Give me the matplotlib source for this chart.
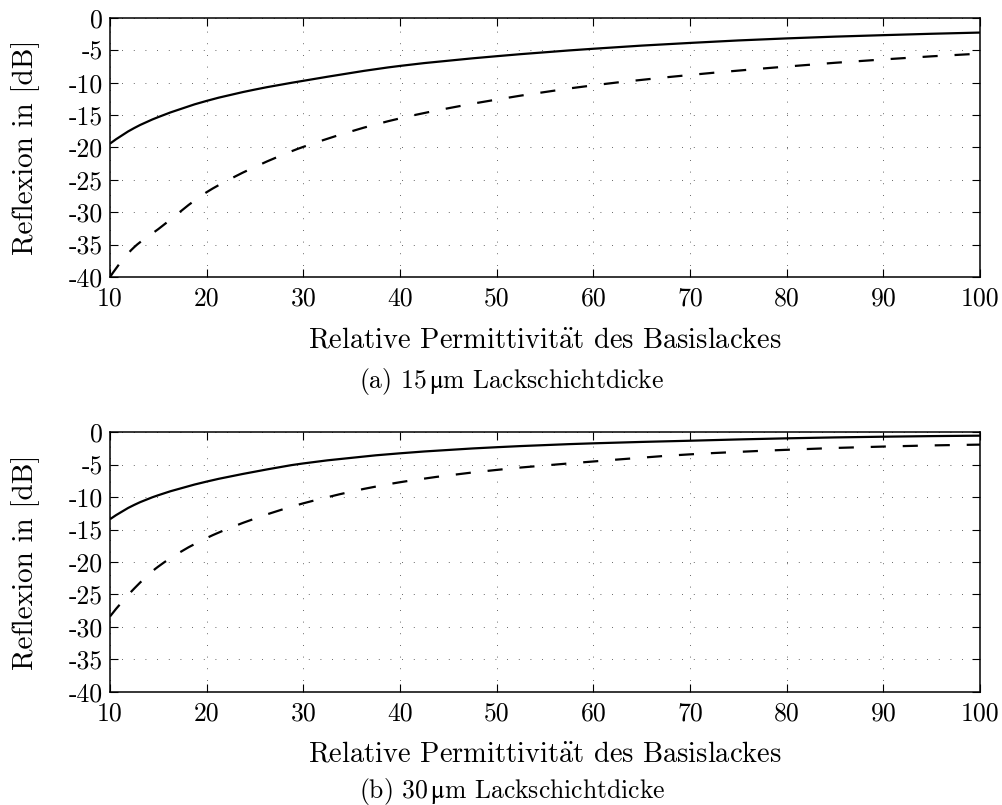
import matplotlib
matplotlib.use("Agg")
import matplotlib.pyplot as plt
import numpy as np
from matplotlib.path import Path
from matplotlib.patches import PathPatch

plt.rcParams['font.family'] = ['cmr10', 'DejaVu Serif']
plt.rcParams['axes.unicode_minus'] = False
plt.rcParams['mathtext.fontset'] = 'cm'

# Relative permittivity of the base coat
eps_r = [10, 12.5, 15, 20, 25, 30, 40, 50, 60, 70, 80, 90, 100]

# Reflection in dB, 15 um coating
refl_15_solid = [-19.4, -17.0, -15.3, -12.8, -11.05, -9.7, -7.4, -5.9, -4.75, -3.85, -3.15, -2.65, -2.25]
refl_15_dashed = [-40.0, -35.4, -32.6, -26.9, -23.0, -19.9, -15.5, -12.6, -10.4, -8.8, -7.5, -6.4, -5.5]

# Reflection in dB, 30 um coating
refl_30_solid = [-13.4, -11.2, -9.7, -7.6, -6.07, -4.8, -3.24, -2.3, -1.7, -1.3, -0.93, -0.68, -0.52]
refl_30_dashed = [-28.4, -24.1, -20.7, -16.3, -13.3, -10.95, -7.7, -5.8, -4.5, -3.4, -2.7, -2.2, -1.9]

x_ticks = [10, 20, 30, 40, 50, 60, 70, 80, 90, 100]
y_ticks = [0, -5, -10, -15, -20, -25, -30, -35, -40]

xlabel = r"Relative Permittivit$\ddot{\mathrm{a}}$t des Basislackes"
ylabel = "Reflexion in [dB]"
captions = [r"(a) 15$\,\mathrm{\mu}$m Lackschichtdicke",
            r"(b) 30$\,\mathrm{\mu}$m Lackschichtdicke"]


def pchip_slopes(x, y):
    """Monotone (Fritsch-Carlson) tangents at the sample points."""
    x = np.asarray(x, float)
    y = np.asarray(y, float)
    h = np.diff(x)
    d = np.diff(y) / h
    m = np.zeros_like(y)
    for k in range(1, len(x) - 1):
        if d[k - 1] * d[k] <= 0:
            m[k] = 0.0
        else:
            w1 = 2 * h[k] + h[k - 1]
            w2 = h[k] + 2 * h[k - 1]
            m[k] = (w1 + w2) / (w1 / d[k - 1] + w2 / d[k])

    def end(h0, h1, d0, d1):
        s = ((2 * h0 + h1) * d0 - h0 * d1) / (h0 + h1)
        if np.sign(s) != np.sign(d0):
            s = 0.0
        elif np.sign(d0) != np.sign(d1) and abs(s) > abs(3 * d0):
            s = 3 * d0
        return s

    m[0] = end(h[0], h[1], d[0], d[1])
    m[-1] = end(h[-1], h[-2], d[-1], d[-2])
    return m


def smooth_path(x, y):
    """Cubic Bezier path passing through every (x, y) sample."""
    m = pchip_slopes(x, y)
    verts = [(x[0], y[0])]
    codes = [Path.MOVETO]
    for k in range(len(x) - 1):
        h = x[k + 1] - x[k]
        verts += [(x[k] + h / 3, y[k] + m[k] * h / 3),
                  (x[k + 1] - h / 3, y[k + 1] - m[k + 1] * h / 3),
                  (x[k + 1], y[k + 1])]
        codes += [Path.CURVE4] * 3
    return Path(verts, codes)


W, H = 1002, 805
fig = plt.figure(figsize=(W / 100, H / 100), dpi=100)

# axes boxes in pixels: left, top, right, bottom
boxes = [(110, 18, 980, 277), (110, 432.3, 980, 691.7)]
caption_drop = [111, 106]

data = [(refl_15_solid, refl_15_dashed), (refl_30_solid, refl_30_dashed)]

for (l, t, r, b), (solid, dashed), cap, drop in zip(boxes, data, captions, caption_drop):
    ax = fig.add_axes([l / W, 1 - b / H, (r - l) / W, (b - t) / H])
    ax.add_patch(PathPatch(smooth_path(eps_r, solid), fill=False,
                           edgecolor='black', lw=1.6, capstyle='butt',
                           joinstyle='round', zorder=3))
    ax.add_patch(PathPatch(smooth_path(eps_r, dashed), fill=False,
                           edgecolor='black', lw=1.6, linestyle=(0, (6.8, 7.6)),
                           capstyle='butt', joinstyle='round', zorder=3))
    ax.set_xlim(10, 100)
    ax.set_ylim(-40, 0)
    ax.set_xticks(x_ticks)
    ax.set_xticklabels([str(v) for v in x_ticks])
    ax.set_yticks(y_ticks)
    ax.set_yticklabels([str(v) for v in y_ticks])
    ax.tick_params(direction='in', top=True, right=True, length=6, width=0.8,
                   labelsize=18.5)
    ax.tick_params(axis='x', pad=7)
    ax.tick_params(axis='y', pad=5)
    ax.grid(True, color='#333333', lw=0.6, linestyle=(0, (1, 13)))
    for sp in ax.spines.values():
        sp.set_linewidth(1.1)

    hgt = b - t
    ax.text(0.5, -70 / hgt, xlabel, transform=ax.transAxes, ha='center',
            va='baseline', fontsize=20.5, math_fontfamily='cm')
    fig.text(512 / W, 1 - (b + drop) / H, cap, ha='center', va='baseline',
             fontsize=18.5, math_fontfamily='stix')
    fig.text(26 / W, 1 - (t + b) / 2 / H, ylabel, rotation=90, ha='center',
             va='center', fontsize=21)

fig.savefig("out.png", dpi=100)
